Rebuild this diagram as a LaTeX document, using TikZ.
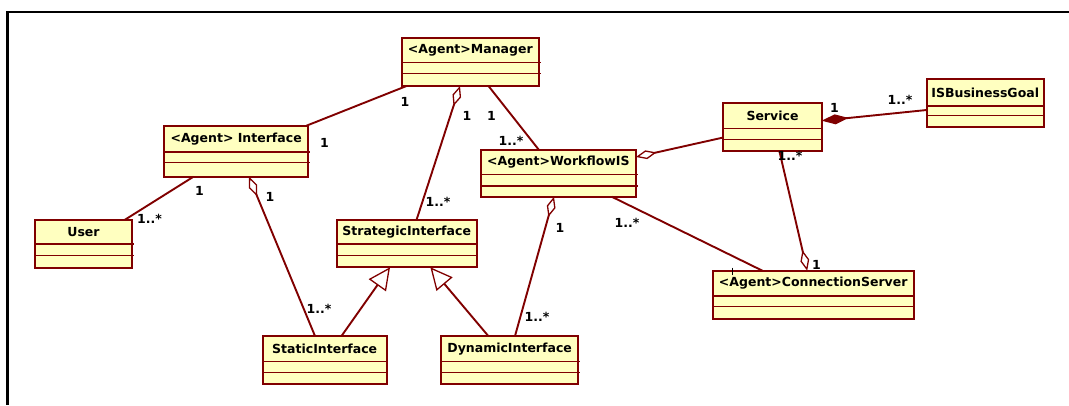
\documentclass[tikz,border=0pt]{standalone}
\usepackage{fontspec}
\setmainfont{DejaVu Sans}
\usetikzlibrary{arrows.meta,calc}
\definecolor{umlline}{HTML}{800000}
\definecolor{umlfill}{HTML}{FFFFC0}
\tikzset{
  clsbox/.style={rectangle, draw=umlline, fill=umlfill, line width=2pt, inner sep=0pt, outer sep=0pt},
  cmpline/.style={draw=umlline, line width=1.5pt},
  clstitle/.style={font=\fontsize{12.5}{14}\selectfont\bfseries, inner sep=0pt, text=black},
  mult/.style={font=\fontsize{12.5}{14}\selectfont\bfseries, inner sep=0pt, text=black},
  assoc/.style={draw=umlline, line width=1.9pt},
  agg/.style={assoc, -{Diamond[open, length=21pt, width=9pt, line width=1.3pt]}},
  comp/.style={assoc, -{Diamond[length=27pt, width=10pt]}},
  gen/.style={assoc, -{Triangle[open, length=22pt, width=21pt, line width=1.3pt]}},
  frameline/.style={draw=black, line width=2.2pt},
}
\newcommand{\umlclass}[8]{%
  \node[clsbox, minimum width={(#4)-(#2)}, minimum height={(#5)-(#3)}] (#1) at ({((#2)+(#4))/2},{((#3)+(#5))/2}) {};
  \draw[cmpline] (#2,#6) -- ({#4+1.5},#6) (#2,#7) -- ({#4+1.5},#7);
  \node[clstitle] (#1t) at ({((#2)+(#4))/2},{((#3)+(#6))/2}) {#8};
}
\begin{document}
\begin{tikzpicture}[x=1pt,y=-1pt]
\useasboundingbox (0,0) rectangle (1069,405);
\draw[frameline] (1069,12) -- (7.5,12) -- (7.5,405);

\umlclass{mgr}{401.7}{37.7}{539}{86}{62.7}{73.3}{<Agent>Manager}
\umlclass{ifc}{164}{125.7}{308.3}{176.7}{152}{162.3}{<Agent> Interface}
\umlclass{usr}{34.7}{219.7}{132.3}{267.7}{244}{255.3}{User}
\umlclass{str}{336.7}{220}{476.7}{267.3}{244}{255.3}{StrategicInterface}
\umlclass{sta}{262.7}{336}{386.7}{384}{361.3}{372.7}{StaticInterface}
\umlclass{dyn}{441}{336}{578.3}{383.7}{361.3}{372.7}{DynamicInterface}
\umlclass{wf}{480.7}{150}{636}{196.7}{174.7}{186}{<Agent>WorkflowIS}
\umlclass{svc}{723.3}{102.7}{821.7}{150.7}{128.7}{139.3}{Service}
\umlclass{isb}{926.7}{79}{1043.8}{127.3}{106}{115.7}{ISBusinessGoal}
\umlclass{con}{712.9}{270.7}{913.6}{318.7}{296}{306.7}{<Agent>ConnectionServer}

% connectors
\draw[assoc] ($(mgr.south west)+(4.8,0)$) -- ($(ifc.north east)+(-1.8,0)$);
\draw[agg] ($(str.north west)+(79.8,0)$) -- ($(mgr.south west)+(58.3,0)$);
\draw[assoc] ($(mgr.south west)+(86.8,0)$) -- ($(wf.north west)+(58.3,0)$);
\draw[assoc] ($(ifc.south west)+(29.5,0)$) -- ($(usr.north west)+(90.3,0)$);
\draw[agg] ($(sta.north west)+(52.3,0)$) -- ($(ifc.south west)+(85,0)$);
\draw[gen] ($(sta.north west)+(78.8,0)$) -- ($(str.south west)+(53.3,0)$);
\draw[gen] ($(dyn.north west)+(47.3,0)$) -- ($(str.south west)+(93.7,0)$);
\draw[agg] ($(dyn.north west)+(74,0)$) -- ($(wf.south west)+(73.3,0)$);
\draw[assoc] ($(wf.south west)+(131,0)$) -- ($(con.north west)+(49.5,0)$);
\draw[agg] ($(svc.north west)+(0,34.8)$) -- ($(wf.north east)+(0,7)$);
\draw[comp] ($(isb.north west)+(0,31)$) -- ($(svc.north east)+(0,18)$);
\draw[agg] ($(svc.south west)+(56,0)$) -- ($(con.north west)+(94.3,0)$);
\draw[black, line width=0.8pt] ($(con.north west)+(19.6,-3)$) -- ($(con.north west)+(19.6,4)$);

% multiplicities
\node[mult] (m1) at (405,102) {1};
\node[mult] (m2) at (324.5,143) {1};
\node[mult] (m3) at (467,116) {1};
\node[mult] (m4) at (491.5,116) {1};
\node[mult] (m5) at (438,202) {1..*};
\node[mult] (m6) at (511,141) {1..*};
\node[mult] (m7) at (199.5,191) {1};
\node[mult] (m8) at (149.5,219) {1..*};
\node[mult] (m9) at (270,197) {1};
\node[mult] (m10) at (319,309) {1..*};
\node[mult] (m11) at (560,228) {1};
\node[mult] (m12) at (537,317) {1..*};
\node[mult] (m13) at (627,223) {1..*};
\node[mult] (m14) at (834.5,108) {1};
\node[mult] (m15) at (900,100) {1..*};
\node[mult] (m16) at (790,156) {1..*};
\node[mult] (m17) at (816.5,265) {1};
\end{tikzpicture}
\end{document}
